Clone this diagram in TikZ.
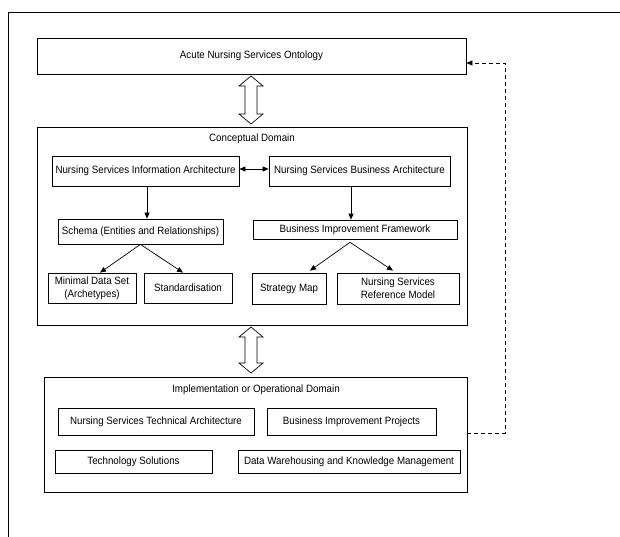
\documentclass[tikz,border=0pt]{standalone}
\usepackage{fontspec}
\setmainfont{Liberation Sans}[FakeStretch=0.92]
\usetikzlibrary{arrows.meta}
\begin{document}
\begin{tikzpicture}[x=1pt,y=-1pt,
  font=\fontsize{10.6}{13}\selectfont,
  box/.style={draw,line width=0.7pt,inner sep=0pt,align=center,minimum width=#1},
  box/.default=10pt,
  lbl/.style={inner sep=0pt},
  arr/.style={line width=0.7pt,-{Triangle[length=6pt,width=5pt]}},
  darr/.style={line width=0.7pt,{Triangle[length=6pt,width=5pt]}-{Triangle[length=6pt,width=5pt]}},
  hollow/.style={draw,line width=0.7pt,fill=white}]
\useasboundingbox (0,0) rectangle (620,537);
% outer frame (top and left edges)
\draw[line width=0.7pt] (620,12) -- (8,12) -- (8,537);
% top box
\node[box=429pt,minimum height=36pt] (onto) at (251.5,56) {Acute Nursing Services Ontology};
% conceptual domain
\node[box=430pt,minimum height=198pt] (conc) at (252,226) {};
\node[lbl] (conct) at (252,139) {Conceptual Domain};
\node[box=187pt,minimum height=30pt] (nsia) at (145.5,171) {Nursing Services Information Architecture};
\node[box=181pt,minimum height=30pt] (nsba) at (359.5,171) {Nursing Services Business Architecture};
\node[box=165pt,minimum height=25pt] (schema) at (140.5,231.5) {Schema (Entities and Relationships)};
\node[box=204pt,minimum height=19pt] (bif) at (355,229.5) {Business Improvement Framework};
\node[box=88pt,minimum height=30pt] (mds) at (92,288) {Minimal Data Set\\(Archetypes)};
\node[box=88pt,minimum height=30pt] (std) at (188,288) {Standardisation};
\node[box=74pt,minimum height=31pt] (sm) at (289,288.5) {Strategy Map};
\node[box=122pt,minimum height=31pt] (nsrm) at (398,288.5) {Nursing Services\\Reference Model};
% implementation domain
\node[box=423pt,minimum height=115pt] (impl) at (255.5,434.5) {};
\node[lbl] (implt) at (256,390) {Implementation or Operational Domain};
\node[box=196pt,minimum height=27pt] (nsta) at (156,421.5) {Nursing Services Technical Architecture};
\node[box=169pt,minimum height=27pt] (bip) at (351.5,421.5) {Business Improvement Projects};
\node[box=157pt,minimum height=23pt] (ts) at (133.5,461.5) {Technology Solutions};
\node[box=222pt,minimum height=23pt] (dwkm) at (349,461.5) {Data Warehousing and Knowledge Management};
% connectors
\draw[darr] ([yshift=2pt]nsia.east) -- ([yshift=2pt]nsba.west);
\draw[arr] ([xshift=1.5pt]nsia.south) -- ([xshift=1.5pt]nsia.south |- schema.north);
\draw[arr] ([xshift=-8.5pt]nsba.south) -- ([xshift=-4pt]bif.north);
\draw[arr] (schema.south) -- ([xshift=8pt]mds.north);
\draw[arr] (schema.south) -- ([xshift=-5pt]std.north);
\draw[arr] ([xshift=-5pt,yshift=-3pt]bif.south) -- ([xshift=21pt,yshift=2pt]sm.north);
\draw[arr] ([xshift=-5pt,yshift=-3pt]bif.south) -- ([xshift=-5pt,yshift=2pt]nsrm.north);
% hollow double arrows
\coordinate (a1t) at (251,76);
\coordinate (a1b) at (251,124);
\draw[hollow] (a1t) -- ++(12,10) -- ++(-6,0) -- ++(0,28) -- ++(6,0) -- (a1b) -- ++(-12,-10) -- ++(6,0) -- ++(0,-28) -- ++(-6,0) -- cycle;
\coordinate (a2t) at (251,327);
\coordinate (a2b) at (251,373);
\draw[hollow] (a2t) -- ++(12,10) -- ++(-6,0) -- ++(0,26) -- ++(6,0) -- (a2b) -- ++(-12,-10) -- ++(6,0) -- ++(0,-26) -- ++(-6,0) -- cycle;
% dashed feedback
\coordinate (fb1) at (505,433);
\coordinate (fb2) at (505,63);
\draw[arr,dashed,dash pattern=on 4pt off 3pt] (impl.east |- fb1) -- (fb1) -- (fb2) -- (onto.east |- fb2);
\end{tikzpicture}
\end{document}
